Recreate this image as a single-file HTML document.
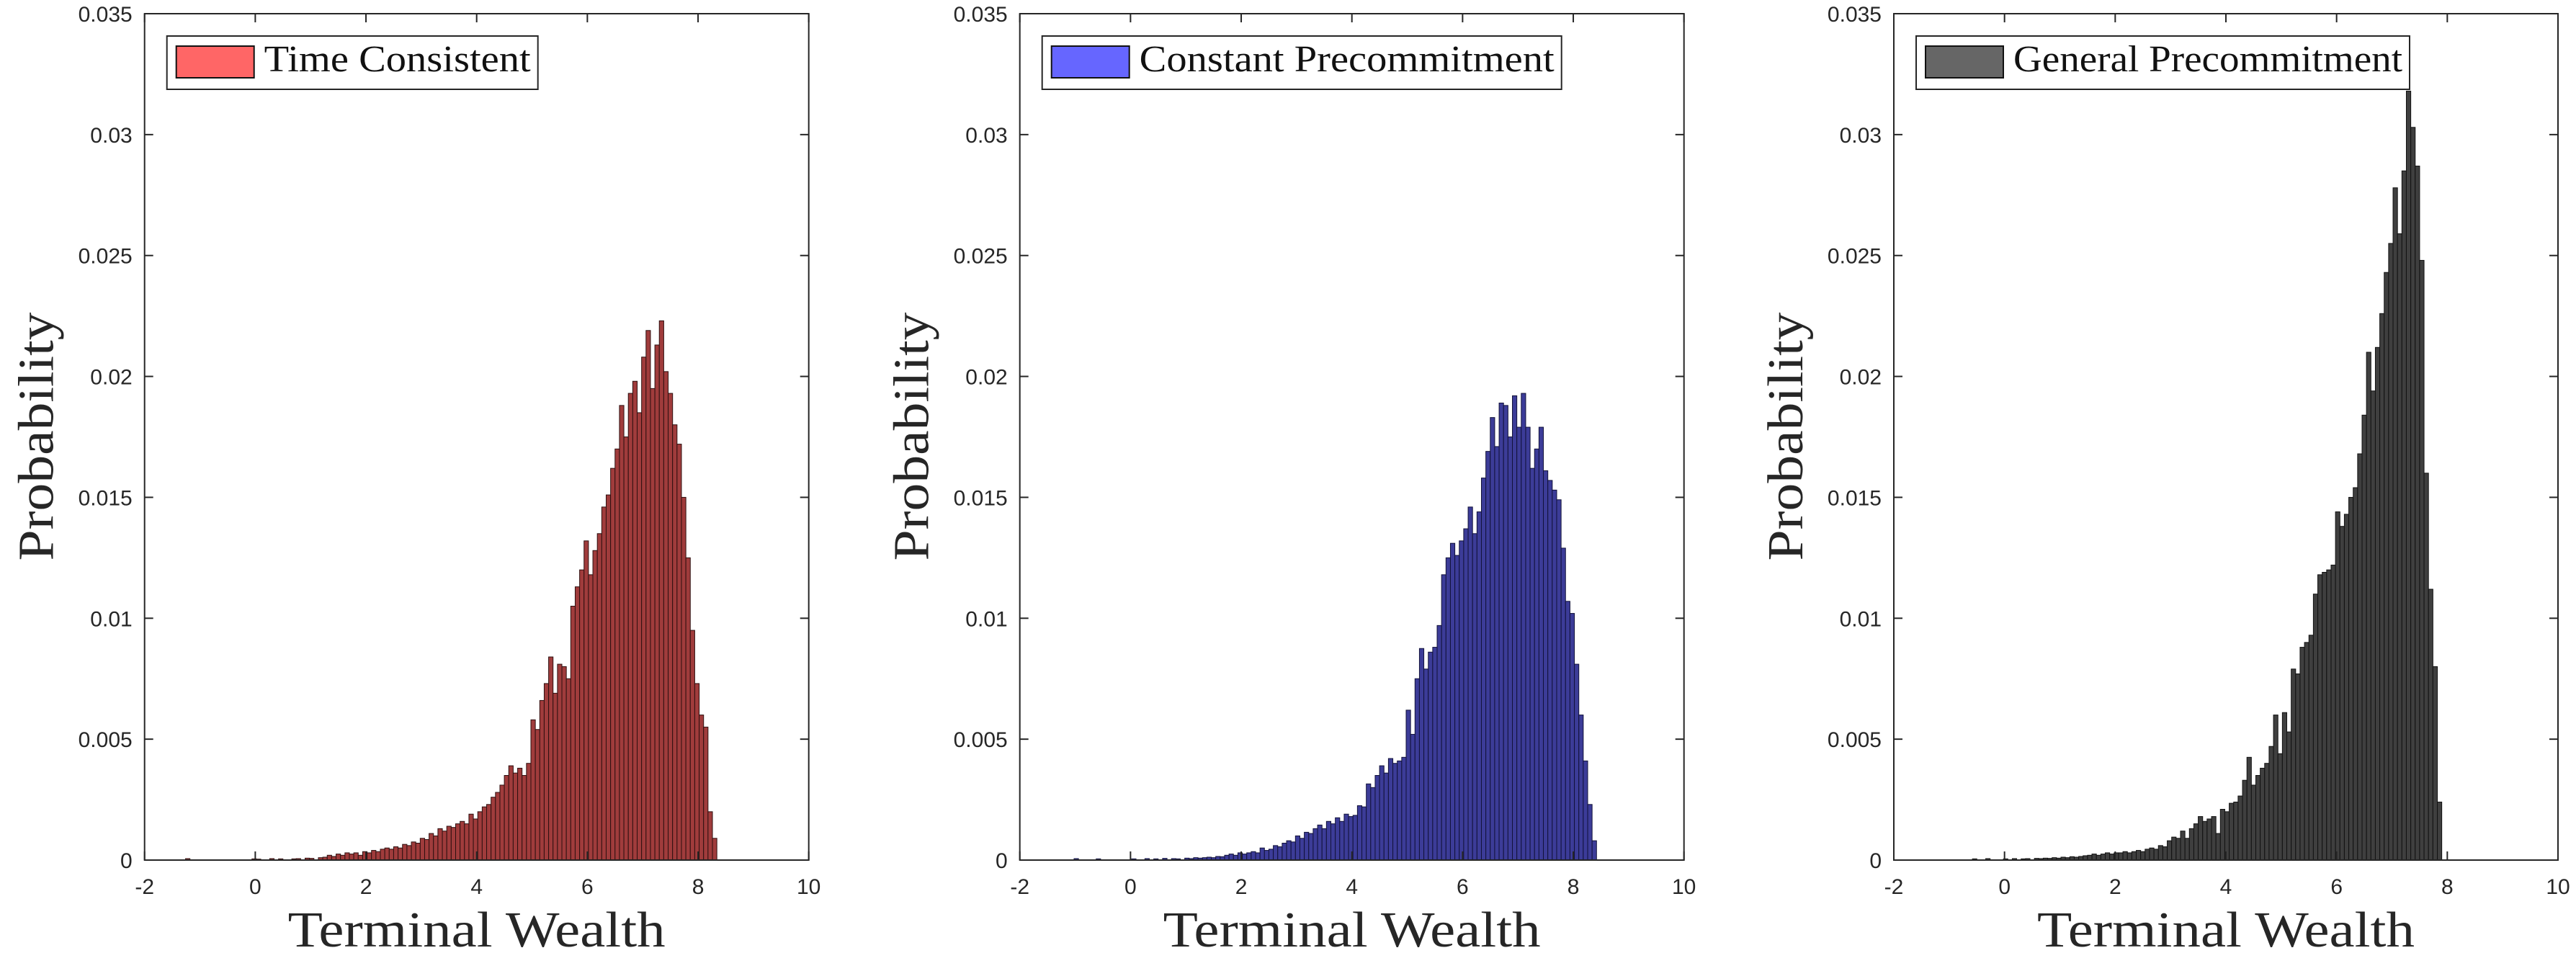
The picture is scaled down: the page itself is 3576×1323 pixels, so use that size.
<!DOCTYPE html>
<html><head><meta charset="utf-8"><style>
html,body{margin:0;padding:0;background:#fff;}
svg{display:block;}
</style></head><body>
<svg id="chart" xmlns="http://www.w3.org/2000/svg" width="3576" height="1323" viewBox="0 0 3576 1323"></svg>
<script>
// ---- data (probability per bin, in units of 0.001) ----
const binWidth = 0.08;
const xTicks = [-2, 0, 2, 4, 6, 8, 10];
const yTicks = [0, 0.005, 0.01, 0.015, 0.02, 0.025, 0.03, 0.035];
const yTickLabels = ["0", "0.005", "0.01", "0.015", "0.02", "0.025", "0.03", "0.035"];

const tcStart = -1.26;
const tcValues = [
 0.06,0,0,0,0,0,0,0,0,0,0,0,0,0,0,0.05,0.04,0,0,0.06,0,0.05,0,0,0.05,0.06,0,0.08,0.07,0,0.1,0.12,
 0.2,0.15,0.25,0.2,0.3, 0.25,0.3,0.2,0.35,0.3, 0.4,0.35,0.45,0.5,0.45, 0.55,0.5,0.65,0.6,0.75,
 0.7,0.9,0.85,1.1,1.0, 1.3,1.2,1.4,1.35,1.5, 1.6,1.5,1.9,1.7,2.0, 2.2,2.3,2.6,2.8,3.1,
 3.5,3.9,3.6,3.8,3.5, 4.0,5.8,5.4,6.6,7.3, 8.4,6.9,8.1,8.0,7.5, 10.5,11.3,12.0,13.2,11.8,
 12.8,13.5,14.6,15.1,16.2, 17.0,18.8,17.5,19.3,19.8, 18.5,20.8,21.9,19.5,21.3,
 22.3,20.2,19.3,18.0,17.2, 15.0,12.5,9.5,7.3,6.0, 5.5,2.0,0.9
];

const cpStart = -1.02;
const cpValues = [
 0.06,0,0,0,0,0.05,0,0,0,0,0,0,0,0.05,0,0,0.06,0,0.05,0,0.07,0,0.06,0.05,0,0.08,0.06,0.1,0.08,0.1,0.12,0.1,0.15,0.14,
 0.2,0.25,0.2,0.3,0.25, 0.3,0.35,0.3,0.5,0.4, 0.45,0.6,0.55,0.7,0.8, 0.75,1.0,0.9,1.15,1.1,
 1.3,1.45,1.3,1.6,1.5, 1.75,1.6,1.9,1.8,1.85, 2.25,2.2,3.15,3.0,3.5, 3.9,3.6,4.2,4.0,4.1,
 4.25,6.2,5.2,7.5,8.75, 7.9,8.6,8.8,9.7,11.8, 12.5,13.1,12.6,13.2,13.7, 14.6,13.5,14.4,15.8,16.9,
 18.3,17.1,18.9,18.8,17.5, 19.2,17.9,19.3,17.9,16.2, 17.0,17.9,16.1,15.7,15.3,
 14.9,12.9,10.7,10.2,8.1, 6.0,4.1,2.3,0.8
];

const gpStart = -1.3;
const gpValues = [
 0,0,0,0,0,0,0,0,0,0.05,0,0,0.06,0,0,0,0.05,0,0.06,0,0.05,0.06,0,0.07,0.06,0.08,0.07,0.1,0.08,0.12,0.1,0.14,0.12,0.15,0.18,
 0.2,0.25,0.2,0.25,0.3, 0.25,0.3,0.3,0.35,0.3, 0.35,0.4,0.35,0.45,0.5, 0.45,0.6,0.55,0.8,0.95,
 0.9,1.2,0.9,1.3,1.5, 1.8,1.6,1.7,1.8,1.1, 2.1,2.0,2.35,2.4,2.65, 3.3,4.25,3.1,3.5,3.8,
 4.0,4.7,6.0,4.4,6.1, 5.3,7.9,7.7,8.8,9.0, 9.3,11.0,11.8,11.9,12.0, 12.2,14.4,13.8,14.3,15.0,
 15.4,16.8,18.4,21.0,19.4, 21.2,22.6,24.3,25.5,27.8, 25.9,28.5,31.8,30.3,28.7,
 24.8,16.0,11.2,8.0,2.4
];

const panelNames = ["time-consistent", "constant-precommitment", "general-precommitment"];
const legendLabels = ["Time Consistent", "Constant Precommitment", "General Precommitment"];
const panelStarts = [tcStart, cpStart, gpStart];
const panelValues = [tcValues, cpValues, gpValues];

// ---- style / layout ----
const NS = "http://www.w3.org/2000/svg";
const svgRoot = document.getElementById("chart");
const lefts = [200.7, 1415.7, 2629];
const plotW = 922, plotTop = 19, plotBottom = 1194;
const fills = ["#a03c3c", "#3c3c98", "#3f3f3f"];
const strokes = ["#2e1010", "#12123a", "#111111"];
const legendFills = ["#ff6666", "#6666ff", "#666666"];
const legendTextW = [370, 576, 540];
const axisColor = "#262626";

function el(tag, attrs, parent) {
  const e = document.createElementNS(NS, tag);
  for (const k in attrs) e.setAttribute(k, attrs[k]);
  (parent || svgRoot).appendChild(e);
  return e;
}

for (let p = 0; p < 3; p++) {
  const L = lefts[p];
  const xs = v => L + (v + 2) / 12 * plotW;
  const ys = v => plotBottom - v / 0.035 * (plotBottom - plotTop);
  const g = el("g", {});
  
  

  const bars = el("g", {}, g);
  
  
  const vals = panelValues[p];
  for (let i = 0; i < vals.length; i++) {
    if (vals[i] <= 0) continue;
    const x0 = xs(panelStarts[p] + i * binWidth);
    const x1 = xs(panelStarts[p] + (i + 1) * binWidth);
    const y = ys(vals[i] / 1000);
    const r = el("rect", {x: x0, y: y, width: x1 - x0, height: plotBottom - y,
      fill: fills[p], stroke: strokes[p], "stroke-width": 1}, bars);
    
    
  }

  const box = el("rect", {x: L, y: plotTop, width: plotW, height: plotBottom - plotTop, fill: "none",
    stroke: axisColor, "stroke-width": 2}, g);
  
  

  xTicks.forEach(t => {
    const x = xs(t);
    el("line", {x1: x, x2: x, y1: plotBottom, y2: plotBottom - 12, stroke: axisColor, "stroke-width": 2}, g);
    el("line", {x1: x, x2: x, y1: plotTop, y2: plotTop + 12, stroke: axisColor, "stroke-width": 2}, g);
    const tx = el("text", {x: x, y: 1241, "text-anchor": "middle", "font-family": "Liberation Sans, sans-serif",
      "font-size": 30, fill: "#262626"}, g);
    tx.textContent = String(t);
    
    
  });
  yTicks.forEach((t, i) => {
    const y = ys(t);
    el("line", {x1: L, x2: L + 12, y1: y, y2: y, stroke: axisColor, "stroke-width": 2}, g);
    el("line", {x1: L + plotW, x2: L + plotW - 12, y1: y, y2: y, stroke: axisColor, "stroke-width": 2}, g);
    const ty = el("text", {x: L - 17, y: y + 11, "text-anchor": "end", "font-family": "Liberation Sans, sans-serif",
      "font-size": 30, fill: "#262626"}, g);
    ty.textContent = yTickLabels[i];
    
    
  });

  const xt = el("text", {x: L + plotW / 2, y: 1314, "text-anchor": "middle", "font-family": "Liberation Serif, serif",
    "font-size": 70, fill: "#262626", textLength: 524, lengthAdjust: "spacingAndGlyphs"}, g);
  xt.textContent = "Terminal Wealth";
  
  
  const yx = L - 127;
  const yt = el("text", {x: yx, y: 606, "text-anchor": "middle", "font-family": "Liberation Serif, serif",
    "font-size": 70, fill: "#262626", textLength: 345, lengthAdjust: "spacingAndGlyphs",
    transform: "rotate(-90 " + yx + " 606)"}, g);
  yt.textContent = "Probability";
  
  

  const lg = el("g", {}, g);
  
  
  const tw = legendTextW[p];
  const lbox = el("rect", {x: L + 31, y: 50, width: (166 + tw + 10) - 31, height: 74, fill: "#fff", stroke: axisColor, "stroke-width": 2}, lg);
  
  
  const patch = el("rect", {x: L + 44, y: 64, width: 108, height: 44, fill: legendFills[p], stroke: "#111", "stroke-width": 2}, lg);
  
  
  const lt = el("text", {x: L + 166, y: 99, "font-family": "Liberation Serif, serif", "font-size": 52, fill: "#111",
    textLength: tw, lengthAdjust: "spacingAndGlyphs"}, lg);
  lt.textContent = legendLabels[p];
  
  
}
</script>
</body></html>
